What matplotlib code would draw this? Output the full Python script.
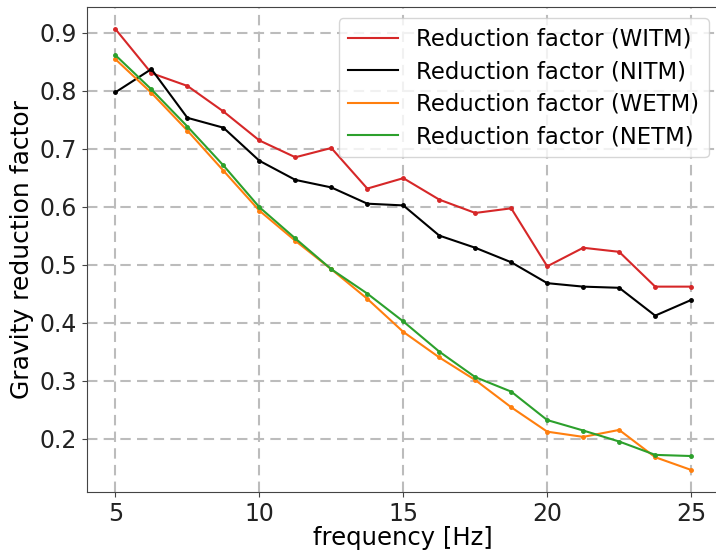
import matplotlib
matplotlib.use("Agg")
import matplotlib.pyplot as plt

freq = [5, 6.25, 7.5, 8.75, 10, 11.25, 12.5, 13.75, 15, 16.25, 17.5, 18.75, 20, 21.25, 22.5, 23.75, 25]

witm = [0.906, 0.830, 0.808, 0.764, 0.714, 0.685, 0.701, 0.631, 0.649, 0.612, 0.589, 0.597,
        0.497, 0.529, 0.522, 0.462, 0.462]
nitm = [0.797, 0.837, 0.753, 0.736, 0.679, 0.646, 0.633, 0.605, 0.602, 0.550, 0.529, 0.504,
        0.468, 0.462, 0.460, 0.412, 0.439]
wetm = [0.854, 0.796, 0.731, 0.662, 0.593, 0.541, 0.492, 0.441, 0.384, 0.340, 0.301, 0.254,
        0.212, 0.203, 0.215, 0.168, 0.146]
netm = [0.861, 0.802, 0.738, 0.671, 0.599, 0.545, 0.492, 0.450, 0.402, 0.350, 0.306, 0.281,
        0.232, 0.214, 0.195, 0.172, 0.170]

series = [
    ("Reduction factor (WITM)", witm, "tab:red"),
    ("Reduction factor (NITM)", nitm, "black"),
    ("Reduction factor (WETM)", wetm, "tab:orange"),
    ("Reduction factor (NETM)", netm, "tab:green"),
]

fig = plt.figure(figsize=(7.16, 5.57), dpi=100)
ax = fig.add_axes([0.121, 0.1167, 0.8845, 0.8707])

for label, vals, color in series:
    ax.plot(freq, vals, color=color, marker=".", markersize=5, linewidth=1.5, label=label)

ax.grid(True, color="#bcbcbc", linestyle=(0, (5, 3)), linewidth=1.5)
ax.set_axisbelow(True)
ax.set_xticks([5, 10, 15, 20, 25])
ax.set_xlabel("frequency [Hz]", fontsize=17.5, labelpad=0)
ax.set_ylabel("Gravity reduction factor", fontsize=18)
for sp in ax.spines.values():
    sp.set_color("#444444")
ax.tick_params(colors="#444444", labelcolor="#222222", labelsize=17)
leg = ax.legend(loc="upper right", fontsize=16.4, handlelength=2.2, labelspacing=0.42)
for h in leg.legend_handles:
    h.set_marker("")

fig.savefig("out.png", dpi=100)
